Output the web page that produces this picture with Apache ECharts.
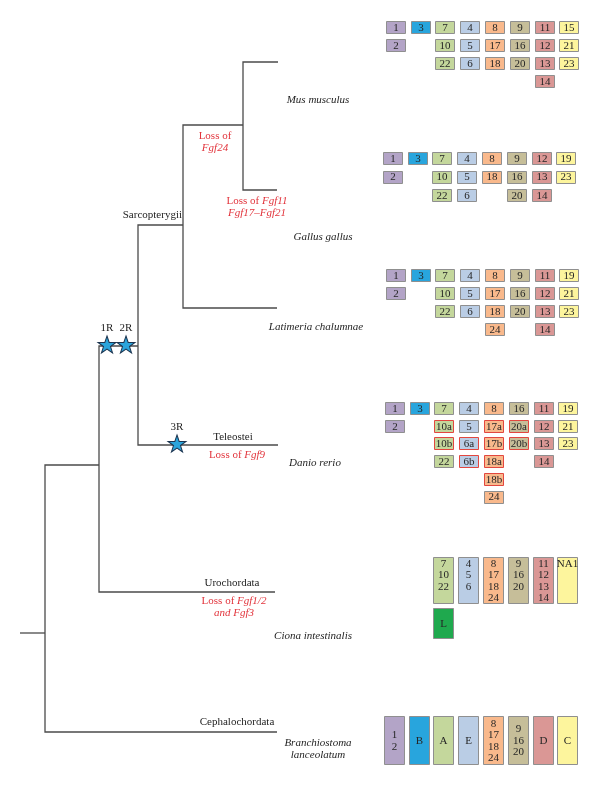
<!DOCTYPE html>
<html>
<head>
<meta charset="utf-8">
<script src="https://cdn.jsdelivr.net/npm/echarts@6/dist/echarts.min.js"></script>
<style>
html, body { margin: 0; padding: 0; background: #fff; }
#chart { width: 600px; height: 785px; }
</style>
</head>
<body>
<div id="chart"></div>
<script>
// Fgf genes per species, one list per colour group (left to right)
const musFgf = [['1', '2'], ['3'], ['7', '10', '22'], ['4', '5', '6'], ['8', '17', '18'], ['9', '16', '20'], ['11', '12', '13', '14'], ['15', '21', '23']];
const gallusFgf = [['1', '2'], ['3'], ['7', '10', '22'], ['4', '5', '6'], ['8', '18'], ['9', '16', '20'], ['12', '13', '14'], ['19', '23']];
const latimeriaFgf = [['1', '2'], ['3'], ['7', '10', '22'], ['4', '5', '6'], ['8', '17', '18', '24'], ['9', '16', '20'], ['11', '12', '13', '14'], ['19', '21', '23']];
const danioFgf = [['1', '2'], ['3'], ['7', '10a', '10b', '22'], ['4', '5', '6a', '6b'], ['8', '17a', '17b', '18a', '18b', '24'], ['16', '20a', '20b'], ['11', '12', '13', '14'], ['19', '21', '23']];
const danioDuplicated = ['10a', '10b', '6a', '6b', '17a', '17b', '18a', '18b', '20a', '20b'];
const cionaFgf = [null, null, ['7', '10', '22'], ['4', '5', '6'], ['8', '17', '18', '24'], ['9', '16', '20'], ['11', '12', '13', '14'], ['NA1']];
const cionaExtra = ['L'];
const branchioFgf = [['1', '2'], ['B'], ['A'], ['E'], ['8', '17', '18', '24'], ['9', '16', '20'], ['D'], ['C']];

// cladogram: each node hangs from its parent (x = branch point, y = row)
const treeNodes = [
  { name: 'root', parent: null, x: 20, y: 633 },
  { name: 'Chordata', parent: 'root', x: 45, y: 633 },
  { name: 'Olfactores', parent: 'Chordata', x: 99, y: 465 },
  { name: 'Vertebrata', parent: 'Olfactores', x: 138, y: 346 },
  { name: 'Sarcopterygii', parent: 'Vertebrata', x: 183, y: 225 },
  { name: 'Tetrapoda', parent: 'Sarcopterygii', x: 243, y: 125 },
  { name: 'Mus', parent: 'Tetrapoda', x: 278, y: 62 },
  { name: 'Gallus', parent: 'Tetrapoda', x: 277, y: 190 },
  { name: 'Latimeria', parent: 'Sarcopterygii', x: 277, y: 308 },
  { name: 'Danio', parent: 'Vertebrata', x: 278, y: 445 },
  { name: 'Ciona', parent: 'Olfactores', x: 275, y: 592 },
  { name: 'Branchiostoma', parent: 'Chordata', x: 277, y: 732 }
];

// genome duplications (stars)
const wgdEvents = [
  { label: '1R', branch: 'Vertebrata', x: 107 },
  { label: '2R', branch: 'Vertebrata', x: 126 },
  { label: '3R', branch: 'Danio', x: 177 }
];

const cladeLabels = ['Sarcopterygii', 'Teleostei', 'Urochordata', 'Cephalochordata'];
const lossLabels = [
  '{n|Loss of}\n{i|Fgf24}',
  '{n|Loss of }{i|Fgf11}\n{i|Fgf17–Fgf21}',
  '{n|Loss of }{i|Fgf9}',
  '{n|Loss of }{i|Fgf1/2}\n{i|and Fgf3}'
];
const speciesNames = ['Mus musculus', 'Gallus gallus', 'Latimeria chalumnae', 'Danio rerio', 'Ciona intestinalis', 'Branchiostoma\nlanceolatum'];

// ---- layout / styles ----
const groupColors = ['#b3a4c7', '#28a5dd', '#c4d79c', '#bacde5', '#f9b98c', '#c6be99', '#da9795', '#fdf59d'];
const extraColor = '#1fa94e';
const serif = '"Liberation Serif", "DejaVu Serif", serif';
const slotX = [385, 410, 434, 459, 484, 509, 534, 558];
const boxW = 19;

const boxes = [];
function addSmallBlock(genes, top, dx, pitch) {
  genes.forEach((list, g) => {
    if (!list) return;
    list.forEach((name, r) => {
      boxes.push({
        x: slotX[g] + dx, y: top + r * pitch, w: boxW, h: 12,
        color: groupColors[g], label: name,
        border: danioDuplicated.indexOf(name) >= 0 && genes === danioFgf ? '#e2473f' : '#8f8f8f',
        valign: 'middle'
      });
    });
  });
}
addSmallBlock(musFgf, 21, 1, 18);
addSmallBlock(gallusFgf, 152, -2, 18.5);
addSmallBlock(latimeriaFgf, 269, 1, 18);
addSmallBlock(danioFgf, 402, 0, 17.7);
cionaFgf.forEach((list, g) => {
  if (!list) return;
  boxes.push({ x: slotX[g] - 1, y: 557, w: 20, h: 46, color: groupColors[g], label: list.join('\n'), border: '#8f8f8f', valign: 'top' });
});
cionaExtra.forEach((name) => {
  boxes.push({ x: slotX[2] - 1, y: 608, w: 20, h: 30, color: extraColor, label: name, border: '#8f8f8f', valign: 'middle' });
});
branchioFgf.forEach((list, g) => {
  boxes.push({ x: slotX[g] - 1, y: 716, w: 20, h: 48, color: groupColors[g], label: list.join('\n'), border: '#8f8f8f', valign: 'middle' });
});

const nodeByName = {};
treeNodes.forEach(n => { nodeByName[n.name] = n; });
const edges = treeNodes.filter(n => n.parent).map(n => {
  const p = nodeByName[n.parent];
  return [p.x, p.y, n.x, n.y];
});

const texts = [];
const cladePos = [[182, 215, 'right'], [233, 437, 'center'], [232, 583, 'center'], [237, 722, 'center']];
cladeLabels.forEach((t, i) => texts.push({ text: '{n|' + t + '}', x: cladePos[i][0], y: cladePos[i][1], align: cladePos[i][2], color: '#1e1e1e' }));
const lossPos = [[215, 142], [257, 207], [237, 455], [234, 607]];
lossLabels.forEach((t, i) => texts.push({ text: t, x: lossPos[i][0], y: lossPos[i][1], align: 'center', color: '#e2343c' }));
const speciesPos = [[318, 100], [323, 237], [316, 327], [315, 463], [313, 636], [318, 749]];
speciesNames.forEach((t, i) => texts.push({
  text: t.split('\n').map(s => '{i|' + s + '}').join('\n'), x: speciesPos[i][0], y: speciesPos[i][1], align: 'center', color: '#1e1e1e'
}));

const chart = echarts.init(document.getElementById('chart'));

const option = {
  animation: false,
  backgroundColor: '#fff',
  grid: { left: 0, right: 0, top: 0, bottom: 0 },
  xAxis: { type: 'value', min: 0, max: 600, show: false },
  yAxis: { type: 'value', min: 0, max: 785, inverse: true, show: false },
  series: [
    {
      type: 'custom',
      name: 'tree',
      encode: { x: [0, 2], y: [1, 3] },
      data: edges,
      renderItem: function (params, api) {
        const a = api.coord([api.value(0), api.value(1)]);
        const m = api.coord([api.value(0), api.value(3)]);
        const b = api.coord([api.value(2), api.value(3)]);
        return {
          type: 'polyline',
          shape: { points: [a, m, b] },
          style: { stroke: '#4b4b4b', lineWidth: 1.3, fill: null }
        };
      }
    },
    {
      type: 'custom',
      name: 'genes',
      encode: { x: 0, y: 1 },
      data: boxes.map(b => [b.x + b.w / 2, b.y + b.h / 2]),
      renderItem: function (params, api) {
        const b = boxes[params.dataIndex];
        const p0 = api.coord([b.x, b.y]);
        const p1 = api.coord([b.x + b.w, b.y + b.h]);
        const top = b.valign === 'top';
        return {
          type: 'group',
          children: [
            {
              type: 'rect',
              shape: { x: Math.round(p0[0]) + 0.5, y: Math.round(p0[1]) + 0.5, width: Math.round(p1[0] - p0[0]), height: Math.round(p1[1] - p0[1]) },
              style: { fill: b.color, stroke: b.border, lineWidth: 1 }
            },
            {
              type: 'text',
              style: {
                text: b.label,
                x: (p0[0] + p1[0]) / 2 + 0.5,
                y: top ? p0[1] + 1 : (p0[1] + p1[1]) / 2 + 1,
                align: 'center',
                verticalAlign: top ? 'top' : 'middle',
                fontFamily: serif,
                fontSize: 11,
                lineHeight: 11.5,
                fill: '#262626'
              }
            }
          ]
        };
      }
    },
    {
      type: 'custom',
      name: 'labels',
      encode: { x: 0, y: 1 },
      data: texts.map(t => [t.x, t.y]),
      renderItem: function (params, api) {
        const t = texts[params.dataIndex];
        const p = api.coord([t.x, t.y]);
        return {
          type: 'text',
          style: {
            text: t.text,
            x: p[0],
            y: p[1],
            align: t.align,
            verticalAlign: 'middle',
            fontFamily: serif,
            fontSize: 11,
            fill: t.color,
            rich: {
              n: { fontFamily: serif, fontSize: 11, fill: t.color, lineHeight: 12 },
              i: { fontFamily: serif, fontSize: 11, fontStyle: 'italic', fill: t.color, lineHeight: 12 }
            }
          }
        };
      }
    },
    {
      type: 'scatter',
      name: 'duplications',
      symbol: 'path://M50,0 L61.8,35.3 L98.9,35.6 L69.1,57.7 L80.2,93.1 L50,71.6 L19.8,93.1 L30.9,57.7 L1.1,35.6 L38.2,35.3 Z',
      symbolSize: [18, 17],
      itemStyle: { color: '#2aa5dc', borderColor: '#1d3550', borderWidth: 1, opacity: 1 },
      label: {
        show: true,
        position: 'top',
        distance: 2,
        formatter: p => wgdEvents[p.dataIndex].label,
        fontFamily: serif,
        fontSize: 11,
        color: '#1e1e1e'
      },
      data: wgdEvents.map(e => [e.x, nodeByName[e.branch].y - 1.5]),
      z: 5
    }
  ]
};

chart.setOption(option);
</script>
</body>
</html>
